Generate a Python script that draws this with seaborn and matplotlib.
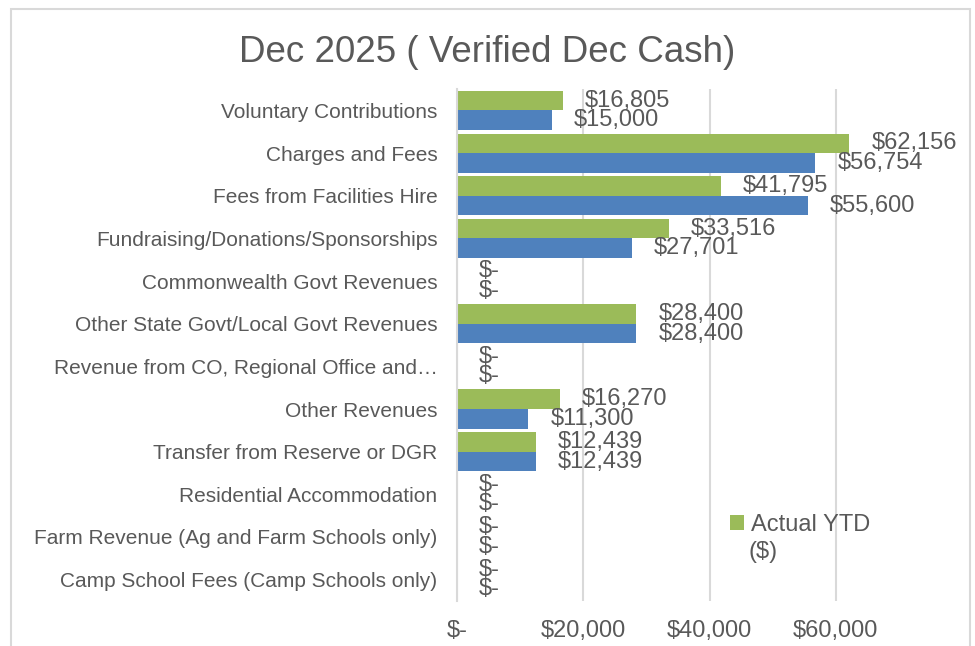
import pandas as pd
import numpy as np
import matplotlib.pyplot as plt
import seaborn as sns
from matplotlib.patches import Patch, Rectangle

### data
categories = [
    "Voluntary Contributions",
    "Charges and Fees",
    "Fees from Facilities Hire",
    "Fundraising/Donations/Sponsorships",
    "Commonwealth Govt Revenues",
    "Other State Govt/Local Govt Revenues",
    "Revenue from CO, Regional Office and\u2026",
    "Other Revenues",
    "Transfer from Reserve or DGR",
    "Residential Accommodation",
    "Farm Revenue (Ag and Farm Schools only)",
    "Camp School Fees (Camp Schools only)",
]
actual_ytd = [16805, 62156, 41795, 33516, 0, 28400, 0, 16270, 12439, 0, 0, 0]
budget = [15000, 56754, 55600, 27701, 0, 28400, 0, 11300, 12439, 0, 0, 0]
series_names = ["Actual YTD", "Budget"]
x_ticks = [0, 20000, 40000, 60000]

df = pd.DataFrame({
    "Category": categories * 2,
    "Series": [series_names[0]] * len(categories) + [series_names[1]] * len(categories),
    "Value": actual_ytd + budget,
})

sns.set_style("white")
plt.rcParams['font.family'] = ['Liberation Sans', 'DejaVu Sans']
text_col = "#595959"
green = "#9BBB59"
blue = "#4F81BD"

fig = plt.figure(figsize=(9.75, 6.46), dpi=100)
ax = fig.add_axes([0.4687, 0.0697, 0.518, 0.7923])

sns.barplot(data=df, y="Category", x="Value", hue="Series", hue_order=series_names,
            palette=[green, blue], saturation=1, orient="h", width=0.92, linewidth=0, ax=ax)

ax.set_xlim(0, 80000)
ax.set_xticks(x_ticks)
ax.set_xticklabels(["$-" if t == 0 else f"${t:,.0f}" for t in x_ticks], fontsize=17, color=text_col)
ax.tick_params(axis="x", length=0, pad=14)
ax.tick_params(axis="y", length=0, pad=14, labelsize=15, labelcolor=text_col)
ax.set_xlabel("")
ax.set_ylabel("")
ax.grid(axis="x", color="#D9D9D9", linewidth=1.5)
ax.set_axisbelow(True)
for s in ["top", "right", "bottom"]:
    ax.spines[s].set_visible(False)
ax.spines["left"].set_color("#D9D9D9")
ax.spines["left"].set_linewidth(1.5)

### data labels
for cont in ax.containers:
    for bar in cont:
        w = bar.get_width()
        y = bar.get_y() + bar.get_height() / 2
        lab = "$-" if w == 0 else f"${w:,.0f}"
        ax.annotate(lab, (w, y), xytext=(22, 0), textcoords="offset pixels",
                    ha="left", va="center", fontsize=17, color=text_col)

### legend: only the green entry shows, second line of its label below
ax.get_legend().remove()
fig.legend(handles=[Patch(facecolor=green, edgecolor="none")], labels=[series_names[0]],
           loc="upper left", bbox_to_anchor=(0.739, 0.219), frameon=False,
           fontsize=17, labelcolor=text_col, handlelength=0.6, handleheight=0.6,
           handletextpad=0.3, borderaxespad=0)
fig.text(0.768, 0.146, "($)", ha="left", va="center", fontsize=17, color=text_col)

fig.text(0.5, 0.918, "Dec 2025 ( Verified Dec Cash)", ha="center", va="center",
         fontsize=26.5, color=text_col)

fig.patches.append(Rectangle((0.011, -0.1), 0.984, 1.086, transform=fig.transFigure,
                             fill=False, edgecolor="#D9D9D9", linewidth=1.5))

plt.savefig("out.png", dpi=100)
plt.close()
